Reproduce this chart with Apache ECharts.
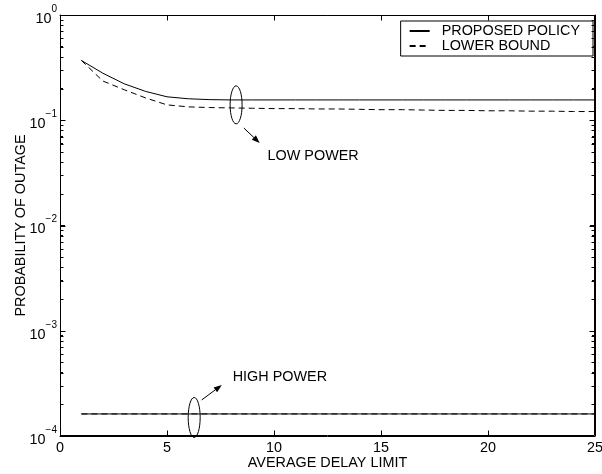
<!DOCTYPE html>
<html><head><meta charset="utf-8">
<script src="https://cdn.jsdelivr.net/npm/echarts@6/dist/echarts.min.js"></script>
<style>html,body{margin:0;padding:0;background:#fff}#c{width:602px;height:474px;background:#fff}</style>
</head><body><div id="c"></div>
<script>
// ---- data ----
const delayX = [1,2,3,4,5,6,7,8,9,10,11,12,13,14,15,16,17,18,19,20,21,22,23,24,25];
const proposedLow = [0.37,0.28,0.222,0.188,0.167,0.160,0.157,0.156,0.156,0.156,0.156,0.156,0.156,0.156,0.156,0.156,0.156,0.156,0.156,0.156,0.156,0.156,0.156,0.156,0.156];
const lowerBoundLow = [0.37,0.236,0.195,0.163,0.140,0.134,0.132,0.131,0.130,0.129,0.129,0.128,0.128,0.127,0.126,0.126,0.125,0.124,0.124,0.123,0.123,0.122,0.122,0.121,0.121];
const highX = [1,5,10,15,20,25];
const proposedHigh = [1.62e-4,1.62e-4,1.62e-4,1.62e-4,1.62e-4,1.62e-4];
const lowerBoundHigh = [1.62e-4,1.62e-4,1.62e-4,1.62e-4,1.62e-4,1.62e-4];
const xTicks = [0,5,10,15,20,25];
const yTicks = [1e-4,1e-3,1e-2,1e-1,1];
const yMinorMultipliers = [2,3,4,5,6,7,8,9];
const seriesNames = ['PROPOSED POLICY','LOWER BOUND'];
const xName = 'AVERAGE DELAY LIMIT';
const yName = 'PROBABILITY OF OUTAGE';
// annotation anchors (data coordinates)
const lowEllipse = [8.23, 0.14];
const highEllipse = [6.27, 1.5e-4];
const lowArrow = [[8.59, 0.0844],[9.33, 0.0608]];
const highArrow = [[6.62, 2.2e-4],[7.56, 3.05e-4]];
const lowLabel = {text:'LOW POWER', at:[9.70, 0.0457]};
const highLabel = {text:'HIGH POWER', at:[8.07, 3.63e-4]};

const FONT = 'Liberation Sans, Arial, Helvetica, sans-serif';
const FS = 14.4;
const pairs = (xs, ys) => xs.map((x,i)=>[x, ys[i]]);

const chart = echarts.init(document.getElementById('c'), null, {renderer:'canvas'});
function axisCommon(){
  return {
    axisLine:{show:true, onZero:false, lineStyle:{color:'#000', width:1}},
    axisTick:{show:true, inside:true, length:5, lineStyle:{color:'#000', width:1}},
    splitLine:{show:false}
  };
}
function xAx(extra){ return Object.assign({type:'value', min:xTicks[0], max:xTicks[xTicks.length-1], interval:5}, axisCommon(), extra); }
function yAx(extra){ return Object.assign({type:'log', logBase:10, min:yTicks[0], max:yTicks[yTicks.length-1],
  minorTick:{show:true, splitNumber:9, length:3, lineStyle:{color:'#000', width:1}}}, axisCommon(), extra); }

const option = {
  animation:false,
  textStyle:{fontFamily:FONT},
  grid:{left:60, right:7, top:15, bottom:38, containLabel:false, outerBoundsMode:'none', show:false},
  legend:{
    orient:'vertical', right:9, top:21, backgroundColor:'#fff', borderColor:'#000', borderWidth:1, borderRadius:0,
    padding:[3,13,3,8], itemGap:1, itemWidth:20, itemHeight:14,
    itemStyle:{color:'rgba(0,0,0,0)', borderColor:'rgba(0,0,0,0)', borderWidth:0},
    textStyle:{fontFamily:FONT, fontSize:FS, color:'#000', padding:[0,0,0,7]},
    data:seriesNames
  },
  xAxis:[
    xAx({position:'bottom', name:xName, nameLocation:'middle', nameGap:20, nameMoveOverlap:false,
      nameTextStyle:{fontFamily:FONT, fontSize:FS, color:'#000'},
      axisLabel:{show:true, margin:5, color:'#000', fontFamily:FONT, fontSize:FS}}),
    xAx({position:'top', axisLabel:{show:false}})
  ],
  yAxis:[
    yAx({position:'left', name:yName, nameLocation:'middle', nameGap:32, nameMoveOverlap:false,
      nameTextStyle:{fontFamily:FONT, fontSize:FS, color:'#000'},
      axisLabel:{show:true, margin:3, color:'#000', fontFamily:FONT,
        formatter:(v)=>{const e=Math.round(Math.log10(v)); return '{b|10}{e|'+(e<0?'\u2212'+(-e):e)+'}';},
        rich:{b:{fontSize:FS, lineHeight:22, verticalAlign:'bottom', fontFamily:FONT, color:'#000'},
              e:{fontSize:10, lineHeight:14, verticalAlign:'top', fontFamily:FONT, color:'#000'}}}}),
    yAx({position:'right', axisLabel:{show:false}})
  ],
  series:[
    {name:seriesNames[0], type:'line', data:pairs(delayX, proposedLow), showSymbol:false, symbol:'none',
      lineStyle:{color:'#000', width:1}, itemStyle:{color:'#000'}},
    {name:seriesNames[1], type:'line', data:pairs(delayX, lowerBoundLow), showSymbol:false, symbol:'none',
      lineStyle:{color:'#000', width:1, type:[6,4]}, itemStyle:{color:'#000'}},
    {name:seriesNames[0], type:'line', data:pairs(highX, proposedHigh), showSymbol:false, symbol:'none',
      lineStyle:{color:'#000', width:1}, itemStyle:{color:'#000'}},
    {name:seriesNames[1], type:'line', data:pairs(highX, lowerBoundHigh), showSymbol:false, symbol:'none',
      lineStyle:{color:'#000', width:1, type:[6,4]}, itemStyle:{color:'#000'}}
  ]
};
chart.setOption(option);

const px = (p) => chart.convertToPixel({seriesIndex:0}, p);
const crisp = (v) => Math.round(v) + 0.5;
const STROKE = {stroke:'#000', lineWidth:1};
function seg(x1,y1,x2,y2){ return {type:'line', z:20, silent:true, shape:{x1:x1,y1:y1,x2:x2,y2:y2}, style:STROKE}; }

// frame and ticks placed through the axes' own scales
const bl = px([xTicks[0], yTicks[0]]), tr = px([xTicks[xTicks.length-1], yTicks[yTicks.length-1]]);
const L = crisp(bl[0]), B = crisp(bl[1]) - 1, R = crisp(tr[0]) - 1, T = crisp(tr[1]);
const frame = [{type:'rect', z:20, silent:true, shape:{x:L, y:T, width:R-L, height:B-T}, style:{fill:'none', stroke:'#000', lineWidth:1}}];
xTicks.forEach(v => {
  const x = crisp(px([v, yTicks[0]])[0]);
  frame.push(seg(x, B, x, B-5), seg(x, T, x, T+5));
});
yTicks.forEach((v, i) => {
  const y = crisp(px([xTicks[0], v])[1]);
  frame.push(seg(L, y, L+5, y), seg(R, y, R-5, y));
  if (i < yTicks.length - 1) {
    yMinorMultipliers.forEach(m => {
      const ym = crisp(px([xTicks[0], v*m])[1]);
      frame.push(seg(L, ym, L+3, ym), seg(R, ym, R-3, ym));
    });
  }
});

function arrow(a, b){
  const p0 = px(a), p1 = px(b);
  const dx = p1[0]-p0[0], dy = p1[1]-p0[1], Ln = Math.hypot(dx,dy);
  const ux = dx/Ln, uy = dy/Ln, nx = -uy, ny = ux, hl = 8, hw = 3;
  const bx = p1[0]-hl*ux, by = p1[1]-hl*uy;
  return [
    {type:'line', shape:{x1:p0[0], y1:p0[1], x2:bx, y2:by}, style:{stroke:'#000', lineWidth:1}},
    {type:'polygon', shape:{points:[[p1[0],p1[1]],[bx+hw*nx,by+hw*ny],[bx-hw*nx,by-hw*ny]]}, style:{fill:'#000'}}
  ];
}
function ellipse(c, rx, ry){
  const p = px(c);
  return {type:'ellipse', shape:{cx:p[0], cy:p[1], rx:rx, ry:ry}, style:{fill:'none', stroke:'#000', lineWidth:1}};
}
function label(l){
  const p = px(l.at);
  return {type:'text', x:p[0], y:p[1], style:{text:l.text, fill:'#000', font:FS+'px '+FONT, verticalAlign:'middle'}};
}
chart.setOption({graphic:[
  ...frame,
  ellipse(lowEllipse, 6, 19), ellipse(highEllipse, 6, 20),
  ...arrow(lowArrow[0], lowArrow[1]), ...arrow(highArrow[0], highArrow[1]),
  label(lowLabel), label(highLabel)
]});
</script></body></html>
